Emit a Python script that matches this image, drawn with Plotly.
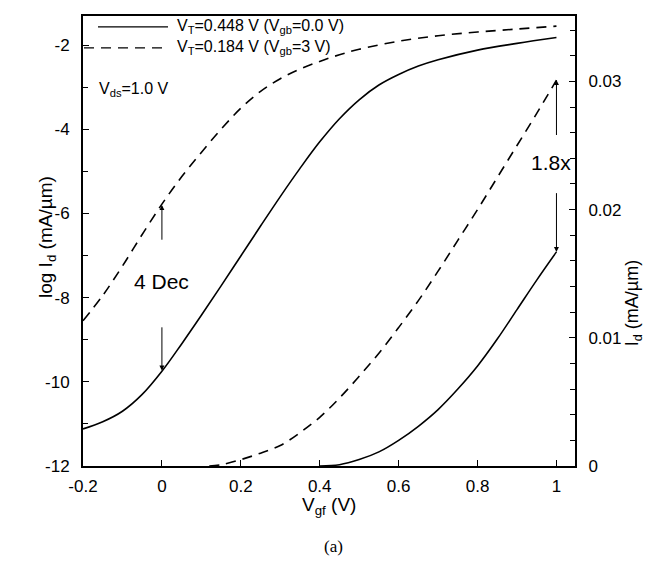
import plotly.graph_objects as go

# ---- data ----
vgf_log_solid = [-0.2, -0.15, -0.1, -0.05, 0.0, 0.05, 0.1, 0.15, 0.2, 0.25, 0.3, 0.35, 0.4, 0.45, 0.5, 0.55, 0.6, 0.65, 0.7, 0.8, 0.9, 1.0]
logid_solid = [-11.12, -10.95, -10.7, -10.3, -9.75, -9.1, -8.42, -7.72, -7.01, -6.3, -5.6, -4.93, -4.3, -3.75, -3.3, -2.95, -2.7, -2.5, -2.35, -2.12, -1.96, -1.82]

vgf_log_dash = [-0.2, -0.15, -0.1, -0.05, 0.0, 0.05, 0.1, 0.15, 0.2, 0.25, 0.3, 0.35, 0.4, 0.45, 0.5, 0.6, 0.7, 0.8, 0.9, 1.0]
logid_dash = [-8.55, -7.95, -7.25, -6.5, -5.78, -5.13, -4.55, -4.0, -3.5, -3.1, -2.8, -2.57, -2.39, -2.23, -2.1, -1.91, -1.78, -1.69, -1.62, -1.55]

vgf_lin_solid = [0.4, 0.45, 0.5, 0.55, 0.6, 0.65, 0.7, 0.75, 0.8, 0.85, 0.9, 0.95, 1.0]
id_solid = [0.0, 0.0001, 0.0005, 0.0011, 0.002, 0.0031, 0.0044, 0.006, 0.0078, 0.0099, 0.0122, 0.0145, 0.0167]

vgf_lin_dash = [0.12, 0.15, 0.2, 0.25, 0.3, 0.35, 0.4, 0.45, 0.5, 0.55, 0.6, 0.65, 0.7, 0.75, 0.8, 0.85, 0.9, 0.95, 1.0]
id_dash = [0.0, 0.0001, 0.0005, 0.001, 0.0016, 0.0026, 0.0038, 0.0053, 0.007, 0.0088, 0.0108, 0.0129, 0.0152, 0.0176, 0.02, 0.0225, 0.025, 0.0275, 0.0301]

x_ticks = [-0.2, 0, 0.2, 0.4, 0.6, 0.8, 1]
y_ticks = [-12, -10, -8, -6, -4, -2]
y2_ticks = [0, 0.01, 0.02, 0.03]

# ---- layout geometry ----
W, H = 651, 570
L, R, T, B = 75, 84, 6, 112
PW, PH = W - L - R, H - T - B


def px(xp):
    return (xp - L) / PW


def py(yp):
    return (H - B - yp) / PH


FONT = "Liberation Sans, Arial, sans-serif"
line_w = 1.6
dash = "10px,7px"

fig = go.Figure()
fig.add_trace(go.Scatter(x=vgf_log_solid, y=logid_solid, mode="lines", line=dict(color="black", width=line_w, shape="spline"), showlegend=False))
fig.add_trace(go.Scatter(x=vgf_log_dash, y=logid_dash, mode="lines", line=dict(color="black", width=line_w, dash=dash, shape="spline"), showlegend=False))
fig.add_trace(go.Scatter(x=vgf_lin_solid, y=id_solid, mode="lines", yaxis="y2", line=dict(color="black", width=line_w, shape="spline"), showlegend=False))
fig.add_trace(go.Scatter(x=vgf_lin_dash, y=id_dash, mode="lines", yaxis="y2", line=dict(color="black", width=line_w, dash=dash, shape="spline"), showlegend=False))

annotations = []
shapes = []
txt = dict(family=FONT, color="black")

# legend (drawn manually)
shapes.append(dict(type="line", xref="paper", yref="paper", x0=px(90), x1=px(160), y0=py(17), y1=py(17), line=dict(color="black", width=1.3)))
shapes.append(dict(type="line", xref="paper", yref="paper", x0=px(76), x1=px(156), y0=py(38), y1=py(38), line=dict(color="black", width=1.3, dash=dash)))
annotations.append(dict(xref="paper", yref="paper", x=px(167), y=py(17), xanchor="left", yanchor="middle", showarrow=False,
                        text="V<sub>T</sub>=0.448 V (V<sub>gb</sub>=0.0 V)", font=dict(size=16, **txt)))
annotations.append(dict(xref="paper", yref="paper", x=px(167), y=py(38), xanchor="left", yanchor="middle", showarrow=False,
                        text="V<sub>T</sub>=0.184 V (V<sub>gb</sub>=3 V)", font=dict(size=16, **txt)))
annotations.append(dict(xref="paper", yref="paper", x=px(89), y=py(80), xanchor="left", yanchor="middle", showarrow=False,
                        text="V<sub>ds</sub>=1.0 V", font=dict(size=16, **txt)))

# 4 Dec arrows
annotations.append(dict(x=0, y=-5.8, ax=0, ay=-6.66, xref="x", yref="y", axref="x", ayref="y", showarrow=True,
                        arrowhead=2, arrowsize=1, arrowwidth=1, arrowcolor="black", text=""))
annotations.append(dict(x=0, y=-9.73, ax=0, ay=-8.67, xref="x", yref="y", axref="x", ayref="y", showarrow=True,
                        arrowhead=2, arrowsize=1, arrowwidth=1, arrowcolor="black", text=""))
annotations.append(dict(x=0, y=-7.62, xref="x", yref="y", showarrow=False, text="4 Dec", font=dict(size=21, **txt)))

# 1.8x arrows
annotations.append(dict(x=1, y=0.0301, ax=1, ay=0.0257, xref="x", yref="y2", axref="x", ayref="y2", showarrow=True,
                        arrowhead=2, arrowsize=1, arrowwidth=1, arrowcolor="black", text=""))
annotations.append(dict(x=1, y=0.0167, ax=1, ay=0.0214, xref="x", yref="y2", axref="x", ayref="y2", showarrow=True,
                        arrowhead=2, arrowsize=1, arrowwidth=1, arrowcolor="black", text=""))
annotations.append(dict(x=0.985, y=0.0237, xref="x", yref="y2", showarrow=False, text="1.8x", font=dict(size=21, **txt)))

# axis titles
annotations.append(dict(xref="paper", yref="paper", x=px(25), y=py(228), showarrow=False, textangle=-90,
                        text="log I<sub>d</sub> (mA/\u00b5m)", font=dict(size=19, **txt)))
annotations.append(dict(xref="paper", yref="paper", x=px(639), y=py(295), showarrow=False, textangle=-90,
                        text="I<sub>d</sub> (mA/\u00b5m)", font=dict(size=18, **txt)))
annotations.append(dict(xref="paper", yref="paper", x=px(321), y=py(512), showarrow=False,
                        text="V<sub>gf</sub> (V)", font=dict(size=19, **txt)))

# caption
annotations.append(dict(xref="paper", yref="paper", x=px(325), y=py(550), showarrow=False, text="(a)",
                        font=dict(size=17, family="Liberation Serif, Times New Roman, serif", color="black")))

axis_common = dict(showgrid=False, zeroline=False, showline=True, linecolor="black", linewidth=2,
                   ticks="inside", ticklen=6, tickcolor="black", tickwidth=1,
                   tickfont=dict(size=17, family=FONT, color="black"))

fig.update_layout(
    width=W, height=H,
    margin=dict(l=L, r=R, t=T, b=B, pad=0),
    paper_bgcolor="white", plot_bgcolor="white",
    showlegend=False,
    font=dict(family=FONT, color="black"),
    xaxis=dict(range=[-0.2, 1.047], tickvals=x_ticks, ticktext=["-0.2", "0", "0.2", "0.4", "0.6", "0.8", "1"],
               mirror=True, ticklabelstandoff=4, **axis_common),
    yaxis=dict(range=[-12, -1.31], tickvals=y_ticks, ticktext=[str(v) for v in y_ticks], ticklabelstandoff=8,
               minor=dict(dtick=1, tick0=0, ticks="inside", ticklen=5, tickcolor="black"),
               **axis_common),
    yaxis2=dict(range=[0, 0.0351], overlaying="y", side="right", tickvals=y2_ticks, ticktext=["0", "0.01", "0.02", "0.03"],
                ticklabelstandoff=8, anchor="x",
                minor=dict(dtick=0.002, tick0=0, ticks="inside", ticklen=5, tickcolor="black"),
                **axis_common),
    annotations=annotations,
    shapes=shapes,
)

fig.write_html("out.html")
